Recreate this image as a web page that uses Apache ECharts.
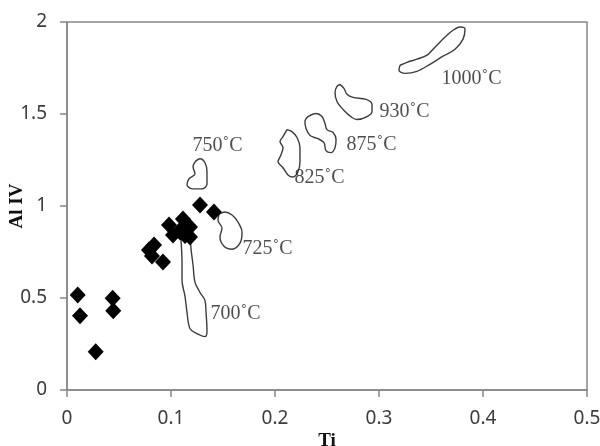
<!DOCTYPE html>
<html>
<head>
<meta charset="utf-8">
<script src="https://cdn.jsdelivr.net/npm/echarts@6/dist/echarts.min.js"></script>
<style>
html,body{margin:0;padding:0;background:#fff;}
#chart{width:600px;height:446px;}
</style>
</head>
<body>
<div id="chart"></div>
<script>
// Sample points (black diamonds)
const sampleTi = [0.0103, 0.0125, 0.0276, 0.0439, 0.0445,
  0.0837, 0.0817, 0.0923, 0.0788, 0.0981, 0.1019, 0.1115, 0.1183, 0.1183, 0.1087, 0.1106, 0.1135, 0.1279, 0.1413];
const sampleAlIV = [0.516, 0.404, 0.208, 0.498, 0.431,
  0.788, 0.728, 0.696, 0.761, 0.897, 0.842, 0.929, 0.886, 0.832, 0.859, 0.880, 0.840, 1.005, 0.967];

// Temperature fields (outline traces, [Ti, AlIV])
const field700 = [[0.1096,0.814],[0.1106,0.694],[0.1106,0.596],[0.1135,0.508],[0.1154,0.421],[0.1183,0.333],[0.125,0.306],[0.1327,0.290],[0.1346,0.322],[0.1337,0.421],[0.1327,0.486],[0.1279,0.530],[0.1231,0.585],[0.1212,0.678],[0.1192,0.770],[0.1183,0.842],[0.1135,0.858],[0.1096,0.814]];
const field725 = [[0.1462,0.956],[0.1519,0.967],[0.1587,0.951],[0.1644,0.913],[0.1683,0.858],[0.1663,0.798],[0.1587,0.765],[0.151,0.781],[0.1471,0.831],[0.149,0.880],[0.1452,0.923],[0.1462,0.956]];
const field750 = [[0.1231,1.240],[0.1279,1.257],[0.1327,1.235],[0.1346,1.186],[0.1346,1.120],[0.1298,1.093],[0.1212,1.093],[0.1154,1.115],[0.1173,1.148],[0.1231,1.175],[0.1212,1.213],[0.1231,1.240]];
const field825 = [[0.2115,1.415],[0.2163,1.404],[0.2212,1.372],[0.2240,1.317],[0.2240,1.240],[0.2221,1.186],[0.2173,1.158],[0.2125,1.169],[0.2077,1.208],[0.2029,1.240],[0.2058,1.279],[0.2077,1.317],[0.2048,1.350],[0.2077,1.377],[0.2115,1.415]];
const field875 = [[0.2317,1.486],[0.2394,1.503],[0.2452,1.486],[0.2481,1.448],[0.2500,1.415],[0.2558,1.399],[0.2587,1.361],[0.2577,1.317],[0.2538,1.290],[0.2490,1.301],[0.2471,1.344],[0.2413,1.366],[0.2337,1.383],[0.2298,1.421],[0.2288,1.459],[0.2317,1.486]];
const field930 = [[0.2625,1.661],[0.2663,1.639],[0.2692,1.607],[0.2750,1.590],[0.2875,1.579],[0.2933,1.552],[0.2933,1.514],[0.2885,1.486],[0.2788,1.470],[0.2740,1.481],[0.2654,1.525],[0.2596,1.568],[0.2577,1.617],[0.2596,1.650],[0.2625,1.661]];
const field1000 = [[0.3202,1.765],[0.3192,1.738],[0.3250,1.721],[0.3365,1.732],[0.3490,1.770],[0.3615,1.814],[0.3731,1.852],[0.3808,1.907],[0.3827,1.962],[0.3779,1.973],[0.3702,1.951],[0.3635,1.918],[0.3538,1.863],[0.3462,1.820],[0.3365,1.798],[0.3269,1.781],[0.3202,1.765]];

// Field labels
const fieldNames = ['700˚C', '725˚C', '750˚C', '825˚C', '875˚C', '930˚C', '1000˚C'];
const labelTi = [0.1385, 0.1692, 0.1212, 0.2192, 0.2692, 0.3010, 0.3606];
const labelAlIV = [0.413, 0.764, 1.326, 1.149, 1.332, 1.512, 1.690];

// Axis ticks
const xTicks = [0, 0.1, 0.2, 0.3, 0.4, 0.5];
const yTicks = [0, 0.5, 1, 1.5, 2];

const fields = [field700, field725, field750, field825, field875, field930, field1000];

const chart = echarts.init(document.getElementById('chart'), null, {renderer: 'canvas'});
const axisColor = '#878787';
const series = [];
fields.forEach(function (f) {
  series.push({
    type: 'line', data: f, smooth: 0.35, showSymbol: false, symbol: 'none', silent: true,
    lineStyle: {color: '#3c3c3c', width: 1.4}, z: 2
  });
});
series.push({
  type: 'scatter', symbol: 'diamond', symbolSize: [16, 17], silent: true,
  itemStyle: {color: '#000000', opacity: 1}, z: 3,
  data: sampleTi.map(function (t, i) { return [t, sampleAlIV[i]]; })
});
series.push({
  type: 'scatter', symbolSize: 1, silent: true,
  itemStyle: {color: 'rgba(0,0,0,0)'}, z: 4,
  data: labelTi.map(function (t, i) { return {value: [t, labelAlIV[i]], name: fieldNames[i]}; }),
  label: {
    show: true, position: [0, 0], align: 'left', verticalAlign: 'middle',
    formatter: function (p) { return p.name; },
    fontFamily: 'Liberation Serif', fontSize: 20, color: '#222222'
  }
});

chart.setOption({
  animation: false,
  backgroundColor: '#ffffff',
  grid: {left: 67, right: 13, top: 22, bottom: 56, show: true, borderColor: axisColor, borderWidth: 1.5,
    containLabel: false, outerBoundsMode: 'none'},
  xAxis: {
    type: 'value', min: xTicks[0], max: xTicks[xTicks.length - 1], interval: 0.1,
    name: 'Ti', nameLocation: 'middle', nameGap: 42, nameMoveOverlap: false,
    nameTextStyle: {fontFamily: 'Liberation Serif', fontWeight: 'bold', fontSize: 19, color: '#111'},
    axisLine: {show: true, lineStyle: {color: axisColor, width: 1.5}},
    axisTick: {show: true, inside: false, length: 7, lineStyle: {color: axisColor, width: 1.5}},
    axisLabel: {margin: 19, fontFamily: 'Noto Sans', fontSize: 19, color: '#3c3c3c',
      formatter: function (v) { return String(+v.toFixed(1)); }},
    splitLine: {show: false}
  },
  yAxis: {
    type: 'value', min: yTicks[0], max: yTicks[yTicks.length - 1], interval: 0.5,
    name: 'Al IV', nameLocation: 'middle', nameGap: 40, nameMoveOverlap: false,
    nameTextStyle: {fontFamily: 'Liberation Serif', fontWeight: 'bold', fontSize: 19, color: '#111'},
    axisLine: {show: true, lineStyle: {color: axisColor, width: 1.5}},
    axisTick: {show: true, inside: false, length: 7, lineStyle: {color: axisColor, width: 1.5}},
    axisLabel: {margin: 20, fontFamily: 'Noto Sans', fontSize: 19, color: '#3c3c3c'},
    splitLine: {show: false}
  },
  series: series
});
</script>
</body>
</html>
